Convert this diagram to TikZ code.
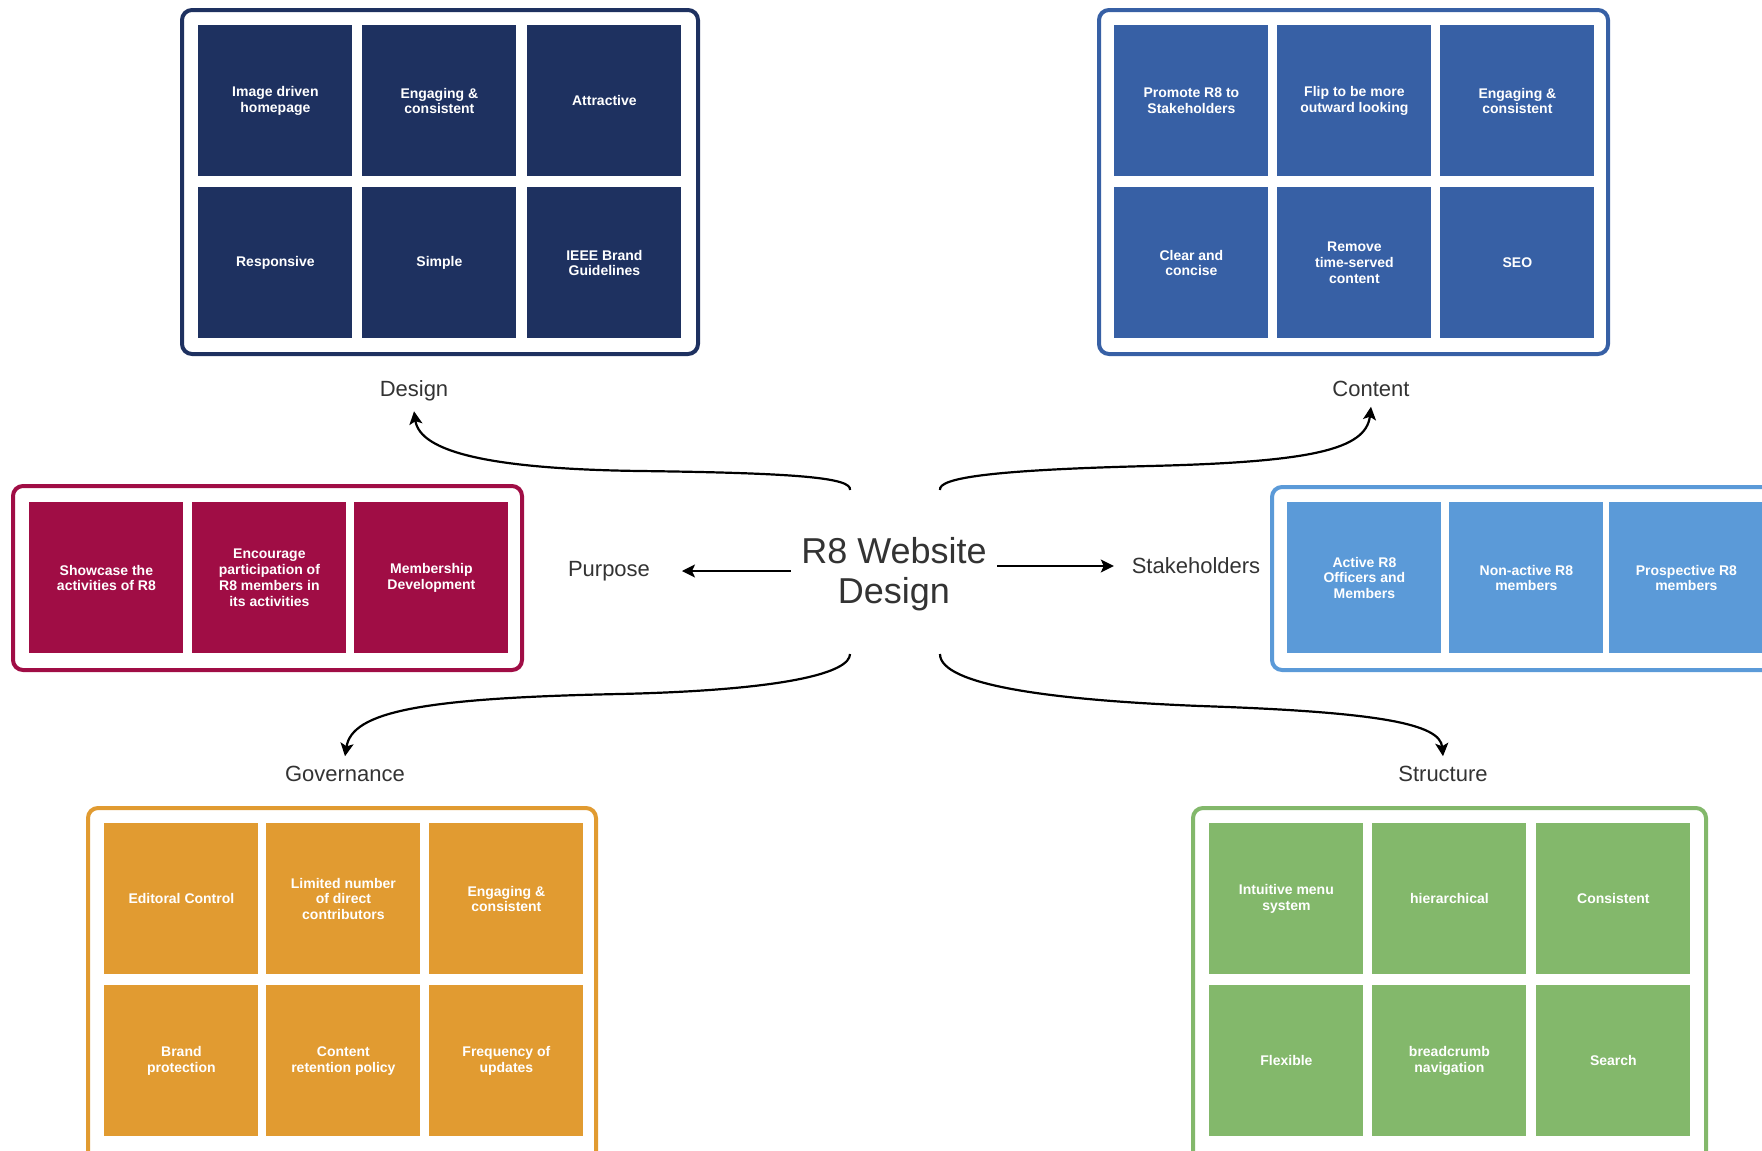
\documentclass[tikz,border=0pt]{standalone}
\usepackage{fontspec}
\setmainfont{Liberation Sans}
\usetikzlibrary{arrows.meta}
\definecolor{cnavy}{HTML}{1E3160}
\definecolor{cblue}{HTML}{3760A5}
\definecolor{cmaroon}{HTML}{A00D45}
\definecolor{clight}{HTML}{5B9AD8}
\definecolor{corange}{HTML}{E19B31}
\definecolor{cgreen}{HTML}{83B86B}
\definecolor{ctext}{HTML}{333333}
\begin{document}
\begin{tikzpicture}[x=0.5pt,y=-0.5pt,
  cell/.style={rectangle, anchor=north west, minimum width=77pt, minimum height=75.5pt,
    inner sep=0pt, align=center, text=white, font=\fontsize{7}{7.9}\selectfont\bfseries},
  groupbox/.style={line width=2pt, rounded corners=5pt},
  lbl/.style={inner sep=0pt, outer sep=5pt, text=ctext, font=\fontsize{11}{13}\selectfont},
  conn/.style={line width=1.1pt, -{Stealth[length=6.5pt,width=6.5pt,inset=1.5pt]}}
]
\useasboundingbox (0,0) rectangle (1762,1151);
\clip (0,0) rectangle (1762,1151);

% ---------- Design ----------
\draw[groupbox, draw=cnavy] (182,10) rectangle (698,354);
\node[cell, fill=cnavy] (d1) at (198,25) {Image driven\\homepage};
\node[cell, fill=cnavy] (d2) at (362,25) {Engaging \&\\consistent};
\node[cell, fill=cnavy] (d3) at (527,25) {Attractive};
\node[cell, fill=cnavy] (d4) at (198,187) {Responsive};
\node[cell, fill=cnavy] (d5) at (362,187) {Simple};
\node[cell, fill=cnavy] (d6) at (527,187) {IEEE Brand\\Guidelines};

% ---------- Content ----------
\draw[groupbox, draw=cblue] (1099,10) rectangle (1608,354);
\node[cell, fill=cblue] (c1) at (1114,25) {Promote R8 to\\Stakeholders};
\node[cell, fill=cblue] (c2) at (1277,25) {Flip to be more\\outward looking};
\node[cell, fill=cblue] (c3) at (1440,25) {Engaging \&\\consistent};
\node[cell, fill=cblue] (c4) at (1114,187) {Clear and\\concise};
\node[cell, fill=cblue] (c5) at (1277,187) {Remove\\time-served\\content};
\node[cell, fill=cblue] (c6) at (1440,187) {SEO};

% ---------- Purpose ----------
\draw[groupbox, draw=cmaroon] (13,486) rectangle (522,670);
\node[cell, fill=cmaroon] (p1) at (29,502) {Showcase the\\activities of R8};
\node[cell, fill=cmaroon] (p2) at (192,502) {Encourage\\participation of\\R8 members in\\its activities};
\node[cell, fill=cmaroon] (p3) at (354,502) {Membership\\Development};

% ---------- Stakeholders ----------
\draw[groupbox, draw=clight] (1272,487) rectangle (1800,670);
\node[cell, fill=clight] (s1) at (1287,502) {Active R8\\Officers and\\Members};
\node[cell, fill=clight] (s2) at (1449,502) {Non-active R8\\members};
\node[cell, fill=clight] (s3) at (1609,502) {Prospective R8\\members};

% ---------- Governance ----------
\draw[groupbox, draw=corange] (88,808) rectangle (596,1162);
\node[cell, fill=corange] (g1) at (104,823) {Editoral Control};
\node[cell, fill=corange] (g2) at (266,823) {Limited number\\of direct\\contributors};
\node[cell, fill=corange] (g3) at (429,823) {Engaging \&\\consistent};
\node[cell, fill=corange] (g4) at (104,985) {Brand\\protection};
\node[cell, fill=corange] (g5) at (266,985) {Content\\retention policy};
\node[cell, fill=corange] (g6) at (429,985) {Frequency of\\updates};

% ---------- Structure ----------
\draw[groupbox, draw=cgreen] (1193,808) rectangle (1706,1162);
\node[cell, fill=cgreen] (t1) at (1209,823) {Intuitive menu\\system};
\node[cell, fill=cgreen] (t2) at (1372,823) {hierarchical};
\node[cell, fill=cgreen] (t3) at (1536,823) {Consistent};
\node[cell, fill=cgreen] (t4) at (1209,985) {Flexible};
\node[cell, fill=cgreen] (t5) at (1372,985) {breadcrumb\\navigation};
\node[cell, fill=cgreen] (t6) at (1536,985) {Search};

% ---------- Labels ----------
\node[lbl] (design) at (414,391) {Design};
\node[lbl] (content) at (1371,389) {Content};
\node[lbl, outer sep=16pt] (purpose) at (609,571) {Purpose};
\node[lbl, outer sep=9pt] (stake) at (1196,566) {Stakeholders};
\node[lbl] (gov) at (345,774) {Governance};
\node[lbl] (struct) at (1443,774) {Structure};

\node[inner sep=5pt, align=center, text=ctext, font=\fontsize{18}{20}\selectfont] (center) at (894,574) {R8 Website\\Design};

% ---------- Connectors ----------
\coordinate (ds) at (850,490);
\coordinate (cs) at (940,490);
\coordinate (gs) at (850,654);
\coordinate (ss) at (940,654);

\draw[conn] (center.west |- purpose.center) -- (purpose.east);
\draw[conn] (center.east |- stake.center) -- (stake.west);
\draw[conn] (ds) .. controls (852,478) and (800,473) .. (640,471)
                 .. controls (490,469) and (420,452) .. (design.south);
\draw[conn] (cs) .. controls (938,478) and (990,470) .. (1150,466)
                 .. controls (1310,462) and (1366,450) .. (content.south);
\draw[conn] (gs) .. controls (850,672) and (790,690) .. (620,694)
                 .. controls (420,698) and (352,712) .. (gov.north);
\draw[conn] (ss) .. controls (940,685) and (1050,700) .. (1200,706)
                 .. controls (1380,712) and (1440,724) .. (struct.north);
\end{tikzpicture}
\end{document}
